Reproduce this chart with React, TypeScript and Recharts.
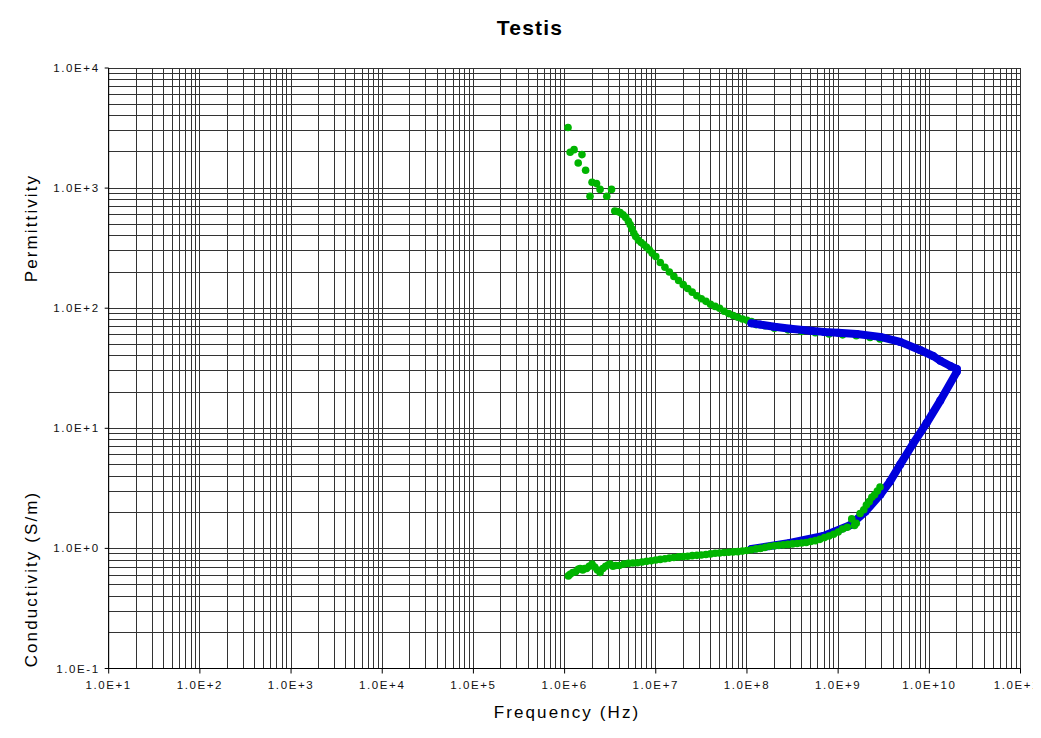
import React from 'react';
import { ScatterChart, Scatter, XAxis, YAxis, CartesianGrid } from 'recharts';

const GREEN = '#00b400';
const BLUE = '#0000dc';
const FONT = '"Liberation Sans", Arial, sans-serif';

// measured permittivity (green dots)
const greenPermFreq = [
  1.09e6, 1.15e6, 1.27e6, 1.41e6, 1.55e6, 1.7e6, 1.9e6, 2.0e6, 2.24e6, 2.45e6,
  2.9e6, 3.27e6, 3.55e6, 3.8e6, 4.07e6, 4.37e6, 4.68e6, 5.01e6, 5.25e6, 5.5e6,
  5.75e6, 6.03e6, 6.46e6, 6.92e6, 7.41e6, 7.94e6, 8.51e6, 9.12e6, 1.0e7, 1.12e7,
  1.26e7, 1.41e7, 1.58e7, 1.78e7, 2.0e7, 2.24e7, 2.51e7, 2.82e7, 3.16e7, 3.55e7,
  3.98e7, 4.47e7, 5.01e7, 5.62e7, 6.31e7, 7.08e7, 7.94e7, 8.91e7, 1.0e8, 1.12e8,
  1.26e8, 1.58e8, 2.0e8, 2.82e8, 3.98e8, 5.62e8, 7.94e8, 1.12e9, 1.58e9, 2.24e9,
  2.88e9,
];
const greenPermValue = [
  3200, 1990, 2090, 1620, 1900, 1410, 855, 1120, 1090, 975,
  855, 975, 645, 638, 625, 600, 570, 530, 495, 455,
  420, 395, 368, 352, 338, 322, 305, 288, 269, 240,
  219, 200, 184, 170, 157, 146, 136, 127, 120, 114,
  108, 103.5, 100, 94.4, 90.2, 87, 84, 81.3, 79.4, 77.6,
  73, 71.5, 68, 66, 64, 62.5, 61, 60, 59, 57,
  55.5,
];

// model permittivity (blue band)
const bluePermFreq = [
  1.12e8, 1.4e8, 2.0e8, 3.0e8, 5.0e8, 7.0e8, 1.0e9, 1.6e9, 2.9e9, 4.8e9,
  8.0e9, 1.1e10, 1.32e10, 1.7e10, 2.0e10,
];
const bluePermValue = [
  75, 73, 70, 67.5, 65, 63.5, 62.5, 61, 57.7, 52.4,
  44.7, 40, 36.5, 33, 31.2,
];

// model conductivity (blue band)
const blueCondFreq = [
  2.0e10, 1.32e10, 9.3e9, 6.6e9, 4.8e9, 3.7e9, 2.9e9, 2.0e9, 1.35e9, 6.9e8,
  2.95e8, 1.12e8,
];
const blueCondValue = [
  29.5, 17, 11, 7.4, 5.0, 3.6, 2.8, 2.03, 1.56, 1.27,
  1.11, 0.99,
];

// measured conductivity (green dots)
const greenCondFreq = [
  1.1e6, 1.15e6, 1.23e6, 1.32e6, 1.41e6, 1.48e6, 1.58e6, 1.66e6, 1.74e6, 1.86e6,
  2.0e6, 2.14e6, 2.29e6, 2.45e6, 2.63e6, 2.82e6, 3.02e6, 3.16e6, 3.39e6, 3.63e6,
  3.98e6, 4.47e6, 5.01e6, 5.62e6, 6.31e6, 7.08e6, 7.94e6, 8.91e6, 1.0e7, 1.12e7,
  1.26e7, 1.41e7, 1.58e7, 1.78e7, 2.0e7, 2.24e7, 2.51e7, 2.82e7, 3.16e7, 3.55e7,
  3.98e7, 4.47e7, 5.01e7, 5.62e7, 6.31e7, 7.08e7, 7.94e7, 8.91e7, 1.0e8, 1.12e8,
  1.26e8, 1.41e8, 1.58e8, 1.78e8, 2.0e8, 2.24e8, 2.51e8, 2.82e8, 3.16e8, 3.55e8,
  3.98e8, 4.47e8, 5.01e8, 5.62e8, 6.31e8, 7.08e8, 7.94e8, 8.91e8, 1.0e9, 1.12e9,
  1.26e9, 1.41e9, 1.51e9, 1.58e9, 1.74e9, 1.91e9, 2.04e9, 2.19e9, 2.34e9, 2.51e9,
  2.69e9, 2.88e9,
];
const greenCondValue = [
  0.59, 0.61, 0.63, 0.64, 0.67, 0.68, 0.66, 0.68, 0.68, 0.71,
  0.74, 0.7, 0.66, 0.63, 0.68, 0.71, 0.73, 0.74, 0.71, 0.72,
  0.72, 0.74, 0.75, 0.755, 0.76, 0.77, 0.78, 0.79, 0.8, 0.81,
  0.82, 0.83, 0.84, 0.85, 0.855, 0.86, 0.87, 0.875, 0.88, 0.89,
  0.9, 0.91, 0.915, 0.925, 0.93, 0.935, 0.94, 0.95, 0.96, 0.975,
  0.99, 1.0, 1.02, 1.04, 1.05, 1.06, 1.07, 1.08, 1.09, 1.1,
  1.11, 1.12, 1.14, 1.16, 1.19, 1.23, 1.27, 1.31, 1.37, 1.45,
  1.5, 1.76, 1.55, 1.62, 1.95, 2.1, 2.3, 2.45, 2.66, 2.8,
  3.0, 3.24,
];

const xDecades = [1e1, 1e2, 1e3, 1e4, 1e5, 1e6, 1e7, 1e8, 1e9, 1e10, 1e11];
const yDecades = [1e-1, 1e0, 1e1, 1e2, 1e3, 1e4];
const minorSteps = [2, 3, 4, 5, 6, 7, 8, 9];

const withMinors = (decades: number[]) =>
  decades.flatMap((d, i) =>
    i === decades.length - 1 ? [d] : [d, ...minorSteps.map((m) => m * d)]
  );

const xTicks = withMinors(xDecades);
const yTicks = withMinors(yDecades);

const toPoints = (xs: number[], ys: number[]) => xs.map((x, i) => ({ x, y: ys[i] }));

const isDecade = (v: number) => {
  const e = Math.log10(v);
  return Math.abs(e - Math.round(e)) < 1e-6;
};

const sci = (v: number) => {
  const e = Math.round(Math.log10(v));
  return `1.0E${e >= 0 ? '+' : '-'}${Math.abs(e)}`;
};

const tickText = { fontFamily: FONT, fontSize: 11.5, letterSpacing: 1.6, fill: '#111' };

const XTick = ({ x, y, payload }: any) => {
  if (!isDecade(payload.value)) return <g />;
  return (
    <g>
      <line x1={x} x2={x} y1={y} y2={y + 5} stroke="#000" />
      <text x={x} y={y + 20} textAnchor="middle" style={tickText}>
        {sci(payload.value)}
      </text>
    </g>
  );
};

const YTick = ({ x, y, payload }: any) => {
  if (!isDecade(payload.value)) return <g />;
  return (
    <g>
      <line x1={x - 4} x2={x} y1={y} y2={y} stroke="#000" />
      <text x={x - 9} y={y + 4} textAnchor="end" style={tickText}>
        {sci(payload.value)}
      </text>
    </g>
  );
};

const dot = (color: string, r: number) => (props: any) =>
  <circle cx={props.cx} cy={props.cy} r={r} fill={color} />;

const labelStyle = { fontFamily: FONT, fontSize: 17, letterSpacing: 2.1, fill: '#000' };

export default function App() {
  return (
    <div
      style={{
        position: 'relative',
        width: 1033,
        height: 730,
        marginLeft: -1,
        marginTop: -1,
        borderLeft: '1px solid #000',
        borderTop: '1px solid #000',
        overflow: 'hidden',
        background: '#fff',
      }}
    >
      <style>{`.recharts-cartesian-grid line { shape-rendering: crispEdges; }`}</style>
      <ScatterChart
        width={1033}
        height={730}
        margin={{ top: 60, right: 20.5, bottom: 39.5, left: 40.7 }}
      >
        <CartesianGrid stroke="#333" strokeWidth={1} />
        <XAxis
          type="number"
          dataKey="x"
          scale="log"
          domain={[1e1, 1e11]}
          ticks={xTicks}
          interval={0}
          tick={<XTick />}
          tickLine={false}
          tickSize={0}
          tickMargin={0}
          height={30}
          axisLine={{ stroke: '#000' }}
          allowDataOverflow
        />
        <YAxis
          type="number"
          dataKey="y"
          scale="log"
          domain={[1e-1, 1e4]}
          ticks={yTicks}
          interval={0}
          tick={<YTick />}
          tickLine={false}
          tickSize={0}
          tickMargin={0}
          width={60}
          axisLine={{ stroke: '#000' }}
          allowDataOverflow
        />
        <Scatter
          data={toPoints(greenPermFreq, greenPermValue)}
          shape={dot(GREEN, 3.8)}
          isAnimationActive={false}
        />
        <Scatter
          data={toPoints(bluePermFreq, bluePermValue)}
          shape={dot(BLUE, 4)}
          line={{ stroke: BLUE, strokeWidth: 8, strokeLinejoin: 'round', strokeLinecap: 'round' }}
          isAnimationActive={false}
        />
        <Scatter
          data={toPoints(blueCondFreq, blueCondValue)}
          shape={dot(BLUE, 4)}
          line={{ stroke: BLUE, strokeWidth: 8, strokeLinejoin: 'round', strokeLinecap: 'round' }}
          isAnimationActive={false}
        />
        <Scatter
          data={toPoints(greenCondFreq, greenCondValue)}
          shape={dot(GREEN, 3.8)}
          isAnimationActive={false}
        />
      </ScatterChart>
      <svg
        width={1033}
        height={730}
        style={{ position: 'absolute', left: 0, top: 0, pointerEvents: 'none' }}
      >
        <text
          x={522}
          y={27}
          textAnchor="middle"
          style={{ fontFamily: FONT, fontSize: 21, fontWeight: 'bold', letterSpacing: 1.2 }}
        >
          Testis
        </text>
        <text transform="translate(29,220) rotate(-90)" textAnchor="middle" style={labelStyle}>
          Permittivity
        </text>
        <text transform="translate(29,571) rotate(-90)" textAnchor="middle" style={labelStyle}>
          Conductivity (S/m)
        </text>
        <text x={559} y={710} textAnchor="middle" style={labelStyle}>
          Frequency (Hz)
        </text>
      </svg>
    </div>
  );
}
